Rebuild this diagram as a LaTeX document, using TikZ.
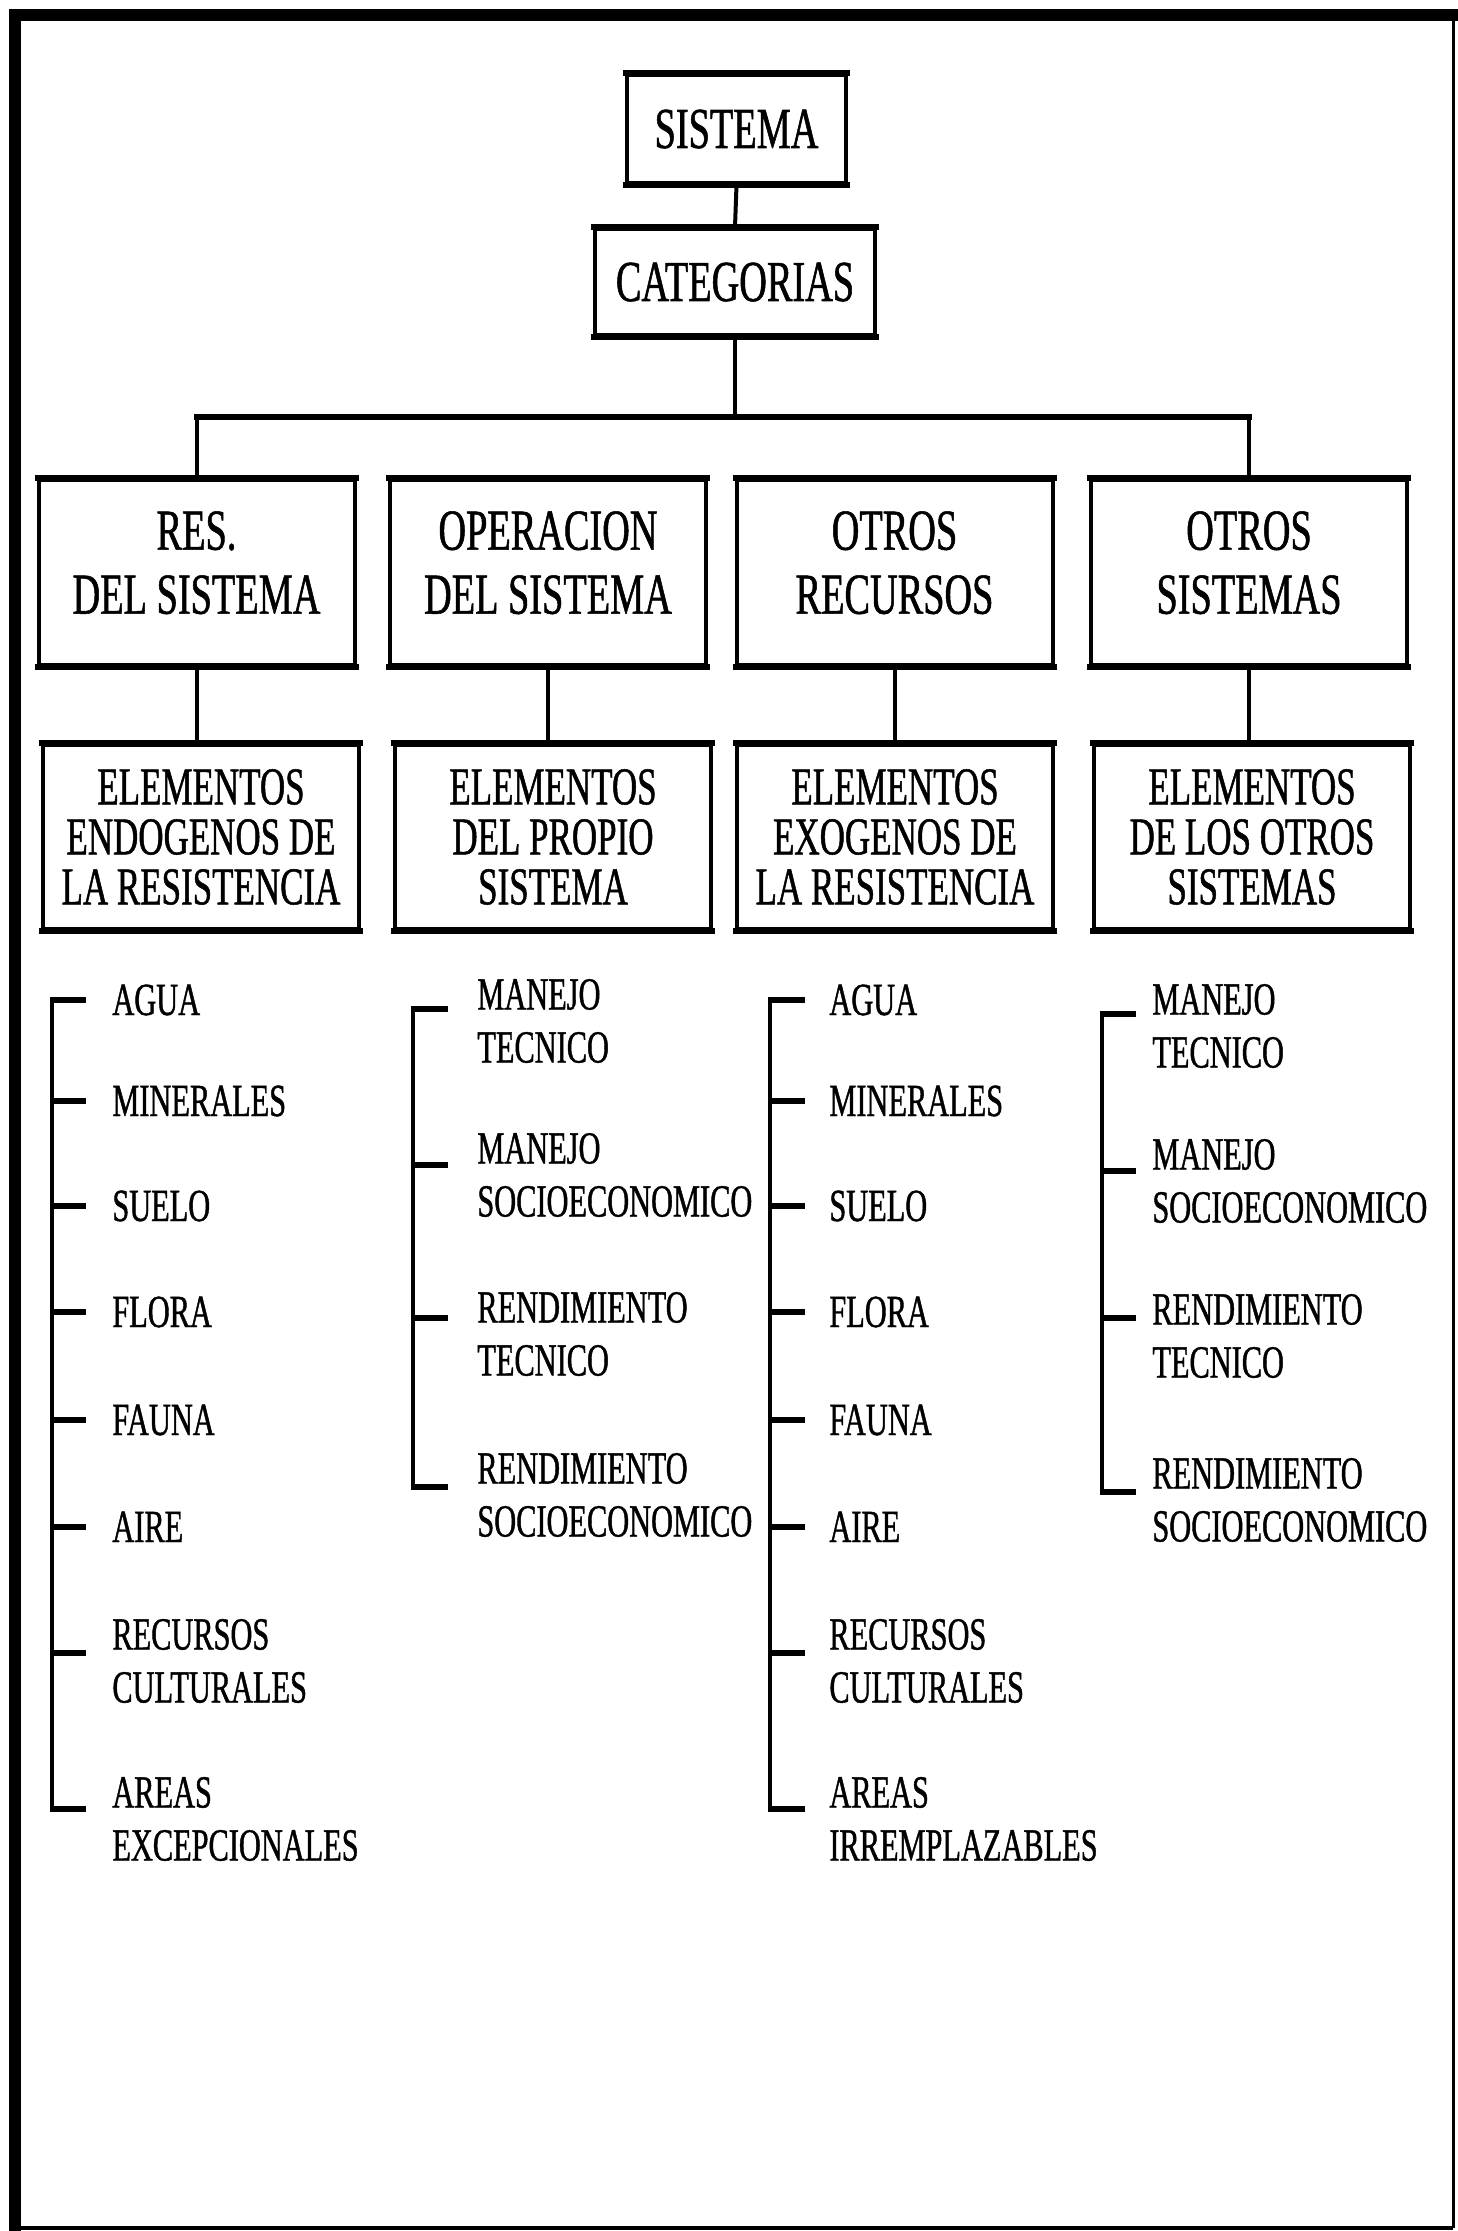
\documentclass[tikz,border=0pt]{standalone}
\usepackage{fontspec}
\setmainfont{Liberation Serif}[FakeStretch=0.66,FakeBold=0.9]
\newcommand\padbelow{\rule[-10pt]{0pt}{10pt}}
\begin{document}
\begin{tikzpicture}[x=0.5pt,y=-0.5pt,
  box/.style={draw, line width=2pt, inner sep=0pt, align=center},
  topbox/.style={box, font={\fontsize{29}{32}\selectfont}, text height=19pt, text depth=0pt},
  catbox/.style={box, minimum width=158pt, minimum height=92.5pt, font={\fontsize{29}{32}\selectfont}},
  elembox/.style={box, minimum width=158pt, minimum height=92pt, font={\fontsize{26.5}{25}\selectfont}},
  edge/.style={line width=3pt, shorten <=-1pt, shorten >=-1pt},
  conn/.style={line width=2pt},
  barline/.style={line width=3pt, line cap=rect},
  leafA/.style={anchor=west, inner sep=0pt, font={\fontsize{23}{26.5}\selectfont}, text height=15pt, text depth=0pt},
  leafB/.style={anchor=west, inner sep=0pt, align=left, font={\fontsize{23}{26.5}\selectfont}},
  spine/.style={line width=2pt, line cap=rect},
  tick/.style={line width=3pt}]
\useasboundingbox (0,0) rectangle (1457,2231);
\fill[white] (0,0) rectangle (1457,2231);

% outer frame: heavy top and left rules, light right and bottom
\draw[line width=1.5pt] (1453,15) -- (1453,2228);
\draw[line width=2pt] (15,2228) -- (1453,2228);
\draw[line width=6pt, line cap=rect, line join=miter] (15,2228) -- (15,15) -- (1453,15);

% hierarchy boxes
\node[topbox, minimum width=109.5pt, minimum height=54pt] (sis) at (736.5,129) {SISTEMA};
\node[topbox, minimum width=140pt, minimum height=53pt] (cat) at (735,282) {CATEGORIAS};

\node[catbox] (r1a) at (196.5,572.5) {RES.\\DEL SISTEMA\padbelow};
\node[catbox] (r1b) at (548,572.5) {OPERACION\\DEL SISTEMA\padbelow};
\node[catbox] (r1c) at (894.5,572.5) {OTROS\\RECURSOS\padbelow};
\node[catbox] (r1d) at (1249,572.5) {OTROS\\SISTEMAS\padbelow};

\node[elembox] (r2a) at (201,837) {ELEMENTOS\\ENDOGENOS DE\\LA RESISTENCIA};
\node[elembox] (r2b) at (553,837) {ELEMENTOS\\DEL PROPIO\\SISTEMA};
\node[elembox] (r2c) at (895,837) {ELEMENTOS\\EXOGENOS DE\\LA RESISTENCIA};
\node[elembox] (r2d) at (1252,837) {ELEMENTOS\\DE LOS OTROS\\SISTEMAS};

% heavier top and bottom edges of every box
\foreach \n in {sis,cat,r1a,r1b,r1c,r1d,r2a,r2b,r2c,r2d} {
  \draw[edge] (\n.north west) -- (\n.north east);
  \draw[edge] (\n.south west) -- (\n.south east);
}

% tree connectors
\coordinate (bar) at (737,417);
\draw[conn] (sis.south) -- (cat.north);
\draw[conn] (cat.south) -- (cat.south |- bar);
\draw[barline] (r1a.north |- bar) -- (r1d.north |- bar);
\draw[conn] (r1a.north |- bar) -- (r1a.north);
\draw[conn] (r1d.north |- bar) -- (r1d.north);
\foreach \u/\v in {r1a/r2a,r1b/r2b,r1c/r2c,r1d/r2d}
  \draw[conn] (\u.south) -- (\u.south |- \v.north);

% spine and tick columns
\coordinate (s1) at (52,0);   \coordinate (e1) at (86,0);
\coordinate (s2) at (413,0);  \coordinate (e2) at (448,0);
\coordinate (s3) at (770,0);  \coordinate (e3) at (805,0);
\coordinate (s4) at (1102,0); \coordinate (e4) at (1136,0);

% endogenous resources
\node[leafA] (a1) at (112,1000) {AGUA};
\node[leafA] (a2) at (112,1101) {MINERALES};
\node[leafA] (a3) at (112,1206) {SUELO};
\node[leafA] (a4) at (112,1312) {FLORA};
\node[leafA] (a5) at (112,1420) {FAUNA};
\node[leafA] (a6) at (112,1527) {AIRE};
\node[leafB] (a7) at (112,1661) {RECURSOS\\CULTURALES};
\node[leafB] (a8) at (112,1819) {AREAS\\EXCEPCIONALES};

% system operation
\node[leafB] (b1) at (477,1021) {MANEJO\\TECNICO};
\node[leafB] (b2) at (477,1175) {MANEJO\\SOCIOECONOMICO};
\node[leafB] (b3) at (477,1334) {RENDIMIENTO\\TECNICO};
\node[leafB] (b4) at (477,1495) {RENDIMIENTO\\SOCIOECONOMICO};

% exogenous resources
\node[leafA] (c1) at (829,1000) {AGUA};
\node[leafA] (c2) at (829,1101) {MINERALES};
\node[leafA] (c3) at (829,1206) {SUELO};
\node[leafA] (c4) at (829,1312) {FLORA};
\node[leafA] (c5) at (829,1420) {FAUNA};
\node[leafA] (c6) at (829,1527) {AIRE};
\node[leafB] (c7) at (829,1661) {RECURSOS\\CULTURALES};
\node[leafB] (c8) at (829,1819) {AREAS\\IRREMPLAZABLES};

% other systems
\node[leafB] (d1) at (1152,1026) {MANEJO\\TECNICO};
\node[leafB] (d2) at (1152,1181) {MANEJO\\SOCIOECONOMICO};
\node[leafB] (d3) at (1152,1336) {RENDIMIENTO\\TECNICO};
\node[leafB] (d4) at (1152,1500) {RENDIMIENTO\\SOCIOECONOMICO};

% tick points: one-line items at their middle, two-line items a little higher
\foreach \n/\dy in {a1/0,a2/0,a3/0,a4/0,a5/0,a6/0,a7/4,a8/5,
                    b1/6,b2/5,b3/8,b4/4,
                    c1/0,c2/0,c3/0,c4/0,c5/0,c6/0,c7/4,c8/5,
                    d1/6,d2/5,d3/9,d4/4}
  \coordinate (k\n) at ([yshift=\dy pt]\n.west);

\draw[spine] (ka1 -| s1) -- (ka8 -| s1);
\draw[spine] (kb1 -| s2) -- (kb4 -| s2);
\draw[spine] (kc1 -| s3) -- (kc8 -| s3);
\draw[spine] (kd1 -| s4) -- (kd4 -| s4);

\foreach \n in {a1,a2,a3,a4,a5,a6,a7,a8}
  \draw[tick] ([xshift=-1pt]k\n -| s1) -- (k\n -| e1);
\foreach \n in {b1,b2,b3,b4}
  \draw[tick] ([xshift=-1pt]k\n -| s2) -- (k\n -| e2);
\foreach \n in {c1,c2,c3,c4,c5,c6,c7,c8}
  \draw[tick] ([xshift=-1pt]k\n -| s3) -- (k\n -| e3);
\foreach \n in {d1,d2,d3,d4}
  \draw[tick] ([xshift=-1pt]k\n -| s4) -- (k\n -| e4);
\end{tikzpicture}
\end{document}
